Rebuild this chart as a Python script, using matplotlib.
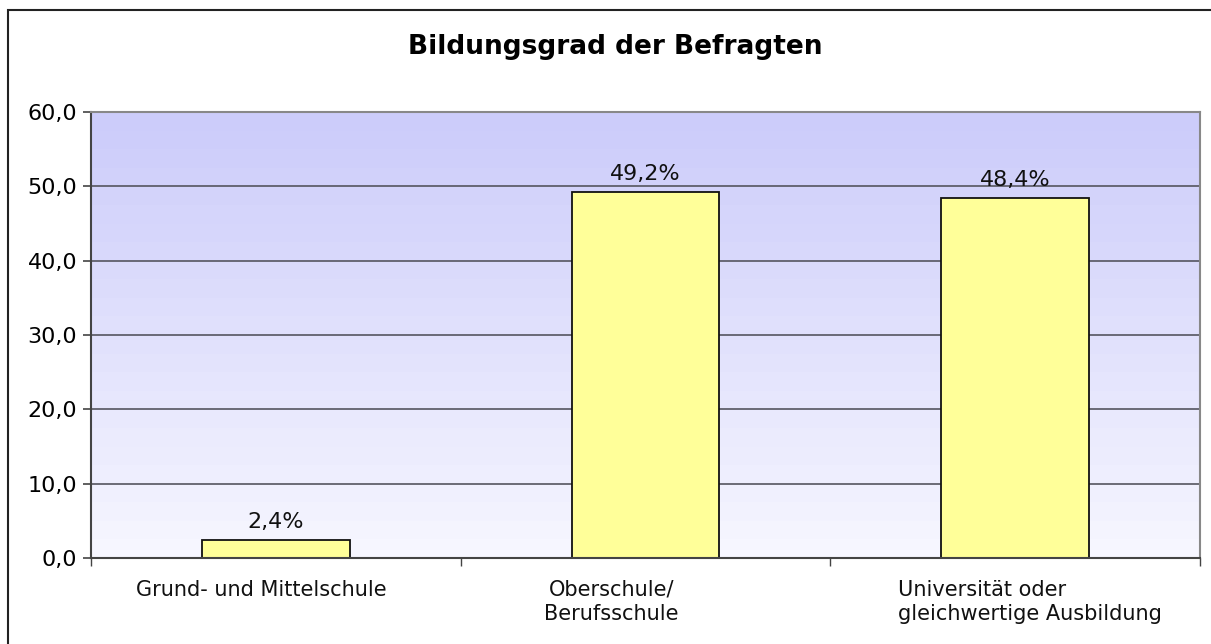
import matplotlib
matplotlib.use("Agg")
import matplotlib.pyplot as plt
import numpy as np
from matplotlib.patches import Rectangle

# Data
categories = ["Grund- und Mittelschule", "Oberschule/\nBerufsschule",
              "Universität oder\ngleichwertige Ausbildung"]
values = [2.4, 49.2, 48.4]
value_labels = ["2,4%", "49,2%", "48,4%"]
y_ticks = [0, 10, 20, 30, 40, 50, 60]

plt.rcParams['font.family'] = ['DejaVu Sans']

fig = plt.figure(figsize=(12.11, 6.44), dpi=100)
ax = fig.add_axes([91 / 1211, 1 - 558 / 644, (1200 - 91) / 1211, (558 - 112) / 644])

# Outer border of the chart
fig.patches.append(Rectangle((8 / 1211, -0.1), 1.2, 1 - 10 / 644 + 0.1,
                             transform=fig.transFigure, fill=False,
                             edgecolor="#222222", linewidth=1.5))

# Gradient background (banded, like the original)
top = np.array([204, 204, 250]) / 255
bottom = np.array([246, 246, 255]) / 255
n_bands = 24
t = np.linspace(0, 1, n_bands).reshape(-1, 1, 1)
grad = bottom + (top - bottom) * t
ax.imshow(grad, extent=[-0.5, 2.5, 0, 60], aspect='auto', origin='lower',
          zorder=0, interpolation='nearest')

ax.set_xlim(-0.5, 2.5)
ax.set_ylim(0, 60)

# Grid lines
for y in y_ticks[1:-1]:
    ax.axhline(y, color="#55555f", linewidth=1.2, zorder=1)

x = np.arange(len(categories))
bars = ax.bar(x, values, width=0.4, color="#ffff99", edgecolor="#111111",
              linewidth=1.3, zorder=2)

for xi, v, lab in zip(x, values, value_labels):
    ax.text(xi, v + 2.5, lab, ha='center', va='center', fontsize=16,
            color="#111111")

# Axes styling
ax.set_yticks(y_ticks)
ax.set_yticklabels([f"{v:.1f}".replace(".", ",") for v in y_ticks], fontsize=16)
ax.tick_params(axis='y', length=6, width=1.2, color="#444444", pad=4)
ax.set_xticks([-0.5, 0.5, 1.5, 2.5])
ax.set_xticklabels([])
ax.tick_params(axis='x', length=6, width=1, color="#444444")

for side in ['left', 'bottom']:
    ax.spines[side].set_color("#444444")
    ax.spines[side].set_linewidth(1.5)
for side in ['top', 'right']:
    ax.spines[side].set_color("#888888")
    ax.spines[side].set_linewidth(1.5)

# Category labels
label_x = [-0.04, -0.092, 0.04]
aligns = ['center', 'center', 'left']
for xi, off, lab, al in zip(x, label_x, categories, aligns):
    ax.text(xi + off, -2.9, lab, ha='center', va='top', fontsize=15,
            multialignment=al, color="#111111", linespacing=1.3)

fig.text(615 / 1211, 1 - 47 / 644, "Bildungsgrad der Befragten",
         ha='center', va='center', fontsize=19, fontweight='bold')

fig.savefig("out.png", dpi=100)
